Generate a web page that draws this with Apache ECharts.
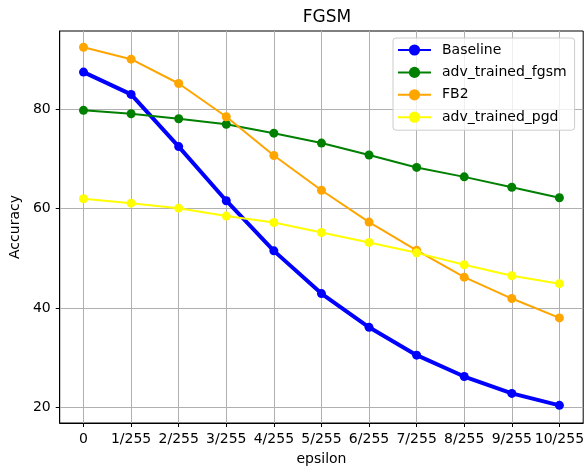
<!DOCTYPE html>
<html>
<head>
<meta charset="utf-8">
<script src="https://cdn.jsdelivr.net/npm/echarts@6/dist/echarts.min.js"></script>
<style>
html, body { margin: 0; padding: 0; background: #fff; }
#main { width: 587px; height: 472px; }
</style>
</head>
<body>
<div id="main"></div>
<script>
// epsilon steps on the x axis
var epsilons = ['0', '1/255', '2/255', '3/255', '4/255', '5/255', '6/255', '7/255', '8/255', '9/255', '10/255'];
var yTicks = [20, 40, 60, 80];

// accuracy per model
var baseline = [87.5, 83.0, 72.5, 61.6, 51.5, 42.9, 36.1, 30.5, 26.2, 22.8, 20.4];
var advFgsm  = [79.8, 79.1, 78.1, 77.0, 75.2, 73.2, 70.8, 68.3, 66.4, 64.3, 62.2];
var fb2      = [92.5, 90.1, 85.2, 78.5, 70.7, 63.7, 57.3, 51.6, 46.2, 41.9, 38.0];
var advPgd   = [62.0, 61.1, 60.1, 58.5, 57.2, 55.2, 53.2, 51.1, 48.7, 46.5, 44.9];

var font = 'DejaVu Sans';
// x positions are the category indices, like matplotlib does with string ticks
var xIdx = epsilons.map(function (e, i) { return i; });

function line(name, data, color, width) {
  return {
    name: name,
    type: 'line',
    data: data.map(function (v, i) { return [xIdx[i], v]; }),
    symbol: 'circle',
    symbolSize: 9,
    showSymbol: true,
    color: color,
    lineStyle: { color: color, width: width },
    itemStyle: { color: color }
  };
}

option = {
  backgroundColor: '#fff',
  animation: false,
  title: {
    text: 'FGSM',
    left: 322,
    top: 4,
    textAlign: 'center',
    textStyle: { fontFamily: font, fontSize: 17, fontWeight: 'normal', color: '#000' }
  },
  grid: {
    left: 59, right: 2, top: 31, bottom: 49,
    show: true,
    borderColor: '#000',
    borderWidth: 1,
    containLabel: false
  },
  legend: {
    orient: 'vertical',
    left: 393,
    top: 38,
    padding: [5, 8, 6, 4],
    itemWidth: 33,
    itemHeight: 14,
    itemGap: 8.4,
    backgroundColor: 'rgba(255,255,255,0.8)',
    borderColor: '#cccccc',
    borderWidth: 1,
    borderRadius: 3,
    textStyle: { fontFamily: font, fontSize: 14, color: '#000', padding: [0, 0, 0, 6] },
    data: ['Baseline', 'adv_trained_fgsm', 'FB2', 'adv_trained_pgd']
  },
  xAxis: {
    type: 'value',
    min: -0.5,
    max: 10.5,
    name: 'epsilon',
    nameLocation: 'middle',
    nameGap: 29,
    nameTextStyle: { fontFamily: font, fontSize: 14, color: '#000' },
    axisLine: { onZero: false, lineStyle: { color: '#000', width: 1 } },
    axisTick: { length: 4, customValues: xIdx, lineStyle: { color: '#000' } },
    axisLabel: {
      margin: 9, customValues: xIdx, fontFamily: font, fontSize: 14, color: '#000',
      formatter: function (v) { return epsilons[Math.round(v)]; }
    },
    splitLine: { show: true, lineStyle: { color: '#b0b0b0', width: 1 } }
  },
  yAxis: {
    type: 'value',
    min: 16.84,
    max: 95.77,
    name: 'Accuracy',
    nameLocation: 'middle',
    nameGap: 37,
    nameTextStyle: { fontFamily: font, fontSize: 14, color: '#000' },
    axisLine: { show: true, onZero: false, lineStyle: { color: '#000', width: 1 } },
    axisTick: { show: true, length: 4, customValues: yTicks, lineStyle: { color: '#000' } },
    axisLabel: { margin: 9, customValues: yTicks, fontFamily: font, fontSize: 14, color: '#000' },
    splitLine: { show: true, lineStyle: { color: '#b0b0b0', width: 1 } }
  },
  series: [
    line('Baseline', baseline, '#0000ff', 4),
    line('adv_trained_fgsm', advFgsm, '#008000', 2),
    line('FB2', fb2, '#ffa500', 2),
    line('adv_trained_pgd', advPgd, '#ffff00', 2)
  ]
};

var myChart = echarts.init(document.getElementById('main'));
myChart.setOption(option);
</script>
</body>
</html>
